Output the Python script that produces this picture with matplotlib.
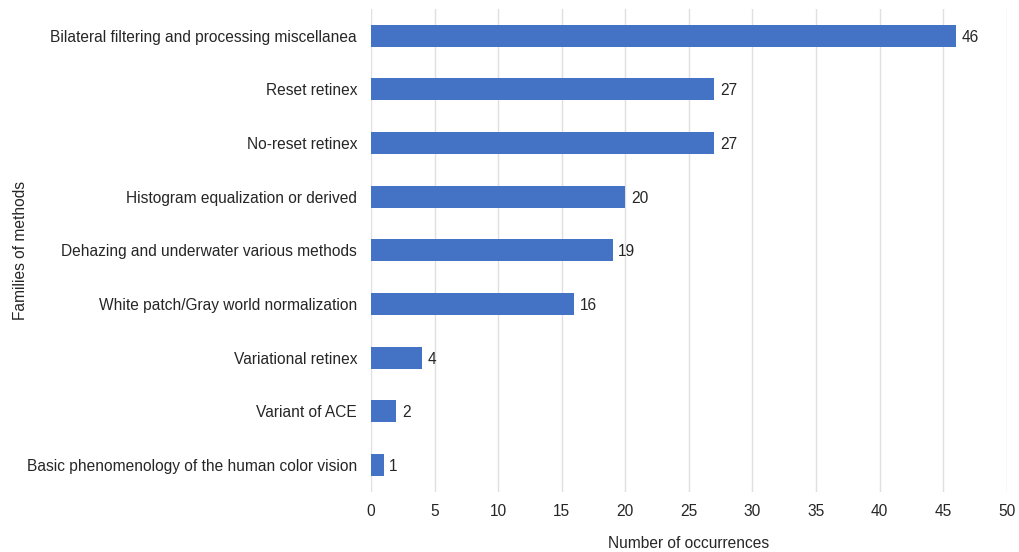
import matplotlib
matplotlib.use("Agg")
import matplotlib.pyplot as plt

# method families, top to bottom, and how often each one appears
families = [
    "Bilateral filtering and processing miscellanea",
    "Reset retinex",
    "No-reset retinex",
    "Histogram equalization or derived",
    "Dehazing and underwater various methods",
    "White patch/Gray world normalization",
    "Variational retinex",
    "Variant of ACE",
    "Basic phenomenology of the human color vision",
]
occurrences = [46, 27, 27, 20, 19, 16, 4, 2, 1]
x_ticks = [0, 5, 10, 15, 20, 25, 30, 35, 40, 45, 50]

plt.rcParams["font.family"] = ["Liberation Sans", "DejaVu Sans"]
fs = 11.2

fig = plt.figure(figsize=(10.19, 5.52), dpi=100)
ax = fig.add_axes([0.364, 0.109, 0.624, 0.875])

pos = list(range(len(families)))[::-1]
bars = ax.barh(pos, occurrences, height=0.41, color="#4472C4", zorder=3)

for b, v in zip(bars, occurrences):
    ax.annotate(str(v), (b.get_width(), b.get_y() + b.get_height() / 2),
                xytext=(4, -1), textcoords="offset points",
                va="center", ha="left", fontsize=fs, color="#262626")

ax.set_yticks(pos)
ax.set_yticklabels(families, fontsize=fs, color="#262626")
ax.set_xticks(x_ticks)
ax.set_xticklabels([str(t) for t in x_ticks], fontsize=fs, color="#262626")
ax.set_xlim(0, 50)
ax.set_ylim(-0.5, len(families) - 0.5)

ax.grid(axis="x", color="#E0E0E0", linewidth=1, zorder=0)
ax.tick_params(axis="y", length=0, pad=10)
ax.tick_params(axis="x", length=0, pad=9)
for s in ax.spines.values():
    s.set_visible(False)

ax.set_xlabel("Number of occurrences", fontsize=fs, color="#262626", labelpad=12)
ax.set_ylabel("Families of methods", fontsize=fs, color="#262626")
ax.yaxis.set_label_coords(-0.54, 0.5)

fig.savefig("out.png", dpi=100)
